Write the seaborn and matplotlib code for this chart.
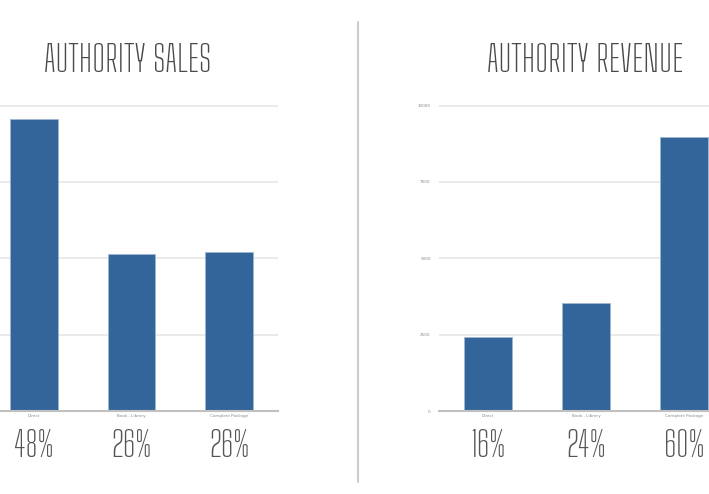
import matplotlib
matplotlib.use("Agg")
import matplotlib.pyplot as plt
import seaborn as sns
import pandas as pd
from matplotlib import font_manager as fm

categories = ["Direct", "Book - Library", "Complete Package"]
sales = [382, 205, 208]
revenue = [2435, 3540, 8960]
sales_pct = ["48%", "26%", "26%"]
revenue_pct = ["16%", "24%", "60%"]
sales_ticks = [0, 100, 200, 300, 400]
revenue_ticks = [0, 2500, 5000, 7500, 10000]

sns.set_theme(style="white")
names = {f.name for f in fm.fontManager.ttflist}
cond = next((c for c in ["Big Shoulders Text", "Big Shoulders", "League Gothic", "Antonio"]
             if c in names), "DejaVu Sans")

W, H = 709, 494
fig = plt.figure(figsize=(W / 100, H / 100), dpi=100)

bar_color = "#33659a"

def px(x0, y_top, w, h):
    return [x0 / W, (H - y_top - h) / H, w / W, h / H]

def panel(rect, values, pct, ticks, title, title_x, show_ticks):
    ax = fig.add_axes(rect)
    df = pd.DataFrame({"cat": categories, "val": values})
    sns.barplot(data=df, x="cat", y="val", color=bar_color, width=0.49,
                edgecolor="#9fb6cf", linewidth=0.6, saturation=1, ax=ax)
    ax.set_xlim(-0.5, 2.5)
    ax.set_ylim(0, ticks[-1] * 1.005)
    ax.set_yticks(ticks)
    if show_ticks:
        ax.set_yticklabels([str(t) for t in ticks], fontsize=3, color="#888")
    else:
        ax.set_yticklabels([])
    ax.tick_params(axis="x", labelsize=3, colors="#888", length=0, pad=2)
    ax.tick_params(axis="y", length=0, pad=6)
    ax.set_xlabel("")
    ax.set_ylabel("")
    ax.grid(axis="y", color="#e6e6e6", linewidth=1.2)
    ax.set_axisbelow(True)
    for s in ["top", "right", "left"]:
        ax.spines[s].set_visible(False)
    ax.spines["bottom"].set_color("#c0c0c0")
    ax.spines["bottom"].set_linewidth(1.5)
    for i, p in enumerate(pct):
        ax.text(i, -0.115, p, transform=ax.get_xaxis_transform(), ha="center",
                va="center", fontsize=25, color="#555555", family=cond,
                fontweight="medium")
    fig.text(title_x / W, (H - 61) / H, title, ha="center", va="center",
             fontsize=26, color="#4a4a4a", family=cond, fontweight="medium")
    return ax

panel(px(-15, 104, 293, 307), sales, sales_pct, sales_ticks,
      "AUTHORITY SALES", 128, False)
panel(px(439, 104, 294, 307), revenue, revenue_pct, revenue_ticks,
      "AUTHORITY REVENUE", 585, True)

fig.add_artist(plt.Line2D([358 / W, 358 / W], [(H - 482) / H, (H - 22) / H],
                          color="#cccccc", linewidth=1.5))

fig.savefig("out.png", dpi=100)
